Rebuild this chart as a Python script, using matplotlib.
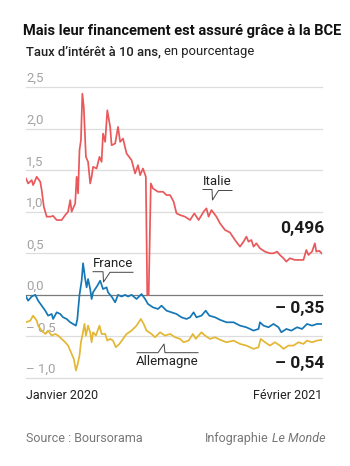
import matplotlib
matplotlib.use("Agg")
import matplotlib.pyplot as plt
from matplotlib import font_manager
import pandas as pd

# jours depuis le 2 janvier 2020, taux à 10 ans en %
italie_jours = [0, 3, 8, 10, 15, 20, 22, 25, 29, 34, 38, 43, 50, 55, 59, 62, 64, 69, 71, 73,
                75, 77, 79, 81, 84, 87, 90, 92, 94, 99, 103, 106, 108, 111, 114, 118, 120, 125,
                129, 132, 136, 141, 148, 153, 157, 160, 164, 168, 170, 172, 175, 178, 185, 192,
                197, 202, 207, 211, 216, 223, 230, 236, 242, 249, 253, 256, 260, 267, 272, 279,
                286, 293, 300, 305, 309, 312, 316, 319, 323, 328, 335, 342, 347, 352, 356, 361,
                365, 370, 377, 384, 389, 393, 396, 401, 405, 407, 411, 415]
italie = [1.40, 1.34, 1.38, 1.32, 1.42, 1.36, 1.26, 1.06, 0.94, 0.94, 0.95, 0.90, 0.90, 0.96,
          1.00, 1.14, 1.00, 1.10, 1.42, 1.22, 1.74, 1.86, 2.42, 2.26, 1.66, 1.60, 1.34, 1.42,
          1.54, 1.52, 1.66, 1.60, 1.94, 1.84, 2.22, 2.02, 1.80, 1.82, 2.02, 1.84, 1.88, 1.70,
          1.62, 1.46, 1.56, 1.44, 1.52, 1.42, 0.00, 0.00, 1.34, 1.28, 1.24, 1.24, 1.20, 1.20,
          1.12, 0.98, 0.96, 0.94, 0.90, 0.98, 0.90, 1.00, 1.04, 0.94, 1.02, 0.94, 0.86, 0.78,
          0.75, 0.66, 0.58, 0.64, 0.70, 0.64, 0.66, 0.58, 0.62, 0.56, 0.52, 0.50, 0.50, 0.52,
          0.48, 0.44, 0.40, 0.44, 0.42, 0.42, 0.42, 0.54, 0.48, 0.52, 0.62, 0.52, 0.53, 0.496]

france_jours = [0, 3, 8, 13, 17, 22, 27, 31, 36, 38, 43, 48, 52, 57, 62, 66, 70, 72, 75, 78,
                80, 83, 85, 87, 90, 92, 94, 97, 100, 104, 108, 113, 115, 120, 125, 129, 134, 139,
                143, 148, 155, 162, 167, 171, 178, 185, 190, 197, 204, 211, 218, 225, 230, 235,
                239, 246, 252, 257, 265, 272, 281, 291, 300, 309, 319, 326, 328, 333, 340, 347,
                354, 358, 365, 372, 380, 387, 394, 401, 408, 415]
france = [-0.02, -0.07, -0.02, 0.00, -0.07, -0.13, -0.19, -0.25, -0.23, -0.29, -0.21, -0.23,
          -0.27, -0.29, -0.33, -0.35, -0.37, -0.29, 0.00, 0.17, 0.38, 0.19, 0.09, 0.19, 0.07,
          -0.05, 0.03, 0.07, 0.11, 0.17, 0.07, 0.09, 0.03, -0.02, -0.09, 0.00, -0.02, 0.00,
          -0.02, 0.00, -0.05, 0.01, -0.05, -0.11, -0.15, -0.17, -0.13, -0.19, -0.21, -0.23,
          -0.27, -0.29, -0.27, -0.21, -0.27, -0.25, -0.19, -0.25, -0.27, -0.30, -0.33, -0.33,
          -0.37, -0.39, -0.43, -0.41, -0.33, -0.37, -0.39, -0.35, -0.39, -0.45, -0.41, -0.43,
          -0.39, -0.41, -0.35, -0.37, -0.35, -0.35]

allemagne_jours = [0, 6, 10, 15, 17, 22, 27, 31, 36, 41, 45, 50, 55, 59, 64, 67, 70, 72, 75,
                   77, 79, 82, 84, 87, 90, 92, 94, 98, 103, 106, 111, 114, 118, 122, 126, 131,
                   136, 141, 148, 155, 161, 165, 169, 176, 181, 188, 195, 202, 209, 216, 221,
                   228, 234, 238, 246, 251, 258, 265, 272, 281, 291, 300, 309, 319, 326, 329,
                   335, 342, 349, 356, 361, 368, 375, 382, 389, 394, 401, 408, 415]
allemagne = [-0.33, -0.31, -0.25, -0.31, -0.37, -0.43, -0.47, -0.43, -0.49, -0.47, -0.49,
             -0.53, -0.57, -0.61, -0.71, -0.77, -0.91, -0.85, -0.73, -0.57, -0.49, -0.35,
             -0.49, -0.37, -0.45, -0.57, -0.45, -0.49, -0.37, -0.47, -0.47, -0.55, -0.53,
             -0.55, -0.63, -0.59, -0.53, -0.47, -0.43, -0.37, -0.29, -0.35, -0.43, -0.47,
             -0.51, -0.45, -0.49, -0.47, -0.51, -0.53, -0.57, -0.55, -0.47, -0.53, -0.45,
             -0.49, -0.53, -0.51, -0.54, -0.57, -0.55, -0.59, -0.61, -0.65, -0.63, -0.53,
             -0.57, -0.61, -0.57, -0.61, -0.65, -0.61, -0.61, -0.57, -0.59, -0.55, -0.57,
             -0.55, -0.54]

y_ticks = [2.5, 2.0, 1.5, 1.0, 0.5, 0.0, -0.5, -1.0]
y_labels = ["2,5", "2,0", "1,5", "1,0", "0,5", "0,0", "\u2013 0,5", "\u2013 1,0"]
fin_labels = ["0,496", "\u2013 0,35", "\u2013 0,54"]

debut = pd.Timestamp("2020-01-02")
def to_dates(jours):
    return debut + pd.to_timedelta(jours, unit="D")

names = {f.name for f in font_manager.fontManager.ttflist}
narrow = "Liberation Sans Narrow" if "Liberation Sans Narrow" in names else "Roboto"
plt.rcParams["font.family"] = ["Roboto", "DejaVu Sans"]

W, H = 350, 466
def fx(x):
    return x / W
def fy(y):
    return 1 - y / H

fig = plt.figure(figsize=(3.5, 4.66), dpi=100)
ax = fig.add_axes([fx(26), fy(378), 296 / W, 291 / H])
ax.axis("off")
ax.set_ylim(-1.0, 2.5)
ax.set_xlim(to_dates([0])[0], to_dates([415])[0])

rouge = "#e9595c"
bleu = "#1577b5"
jaune = "#e3b734"

for v, lab in zip(y_ticks, y_labels):
    c = "#7a7a7a" if v == 0 else "#dddddd"
    ax.axhline(v, color=c, lw=0.9, zorder=1, clip_on=False)
    ax.annotate(lab, xy=(0, v), xycoords=("axes fraction", "data"),
                xytext=(0, 3.5), textcoords="offset points", annotation_clip=False,
                fontsize=9.5, color="#a3a3a3", ha="left", va="baseline", zorder=2)

ax.plot(to_dates(italie_jours), italie, color=rouge, lw=1.25, zorder=4)
ax.plot(to_dates(france_jours), france, color=bleu, lw=1.25, zorder=5)
ax.plot(to_dates(allemagne_jours), allemagne, color=jaune, lw=1.25, zorder=4)

# valeurs finales
for y, lab in zip([233, 313, 368], fin_labels):
    fig.text(fx(324), fy(y), lab, fontsize=12.5, fontweight="bold", color="#1a1a1a",
             ha="right", va="baseline")

# noms des pays avec petites flèches
fig.text(fx(217), fy(185), "Italie", fontsize=9.5, color="#222222", ha="center", va="baseline")
fig.add_artist(plt.Line2D([fx(203), fx(212), fx(212.5), fx(218.5), fx(232)],
                          [fy(189.5), fy(189.5), fy(200), fy(190.5), fy(190.5)],
                          color="#444444", lw=0.7))
fig.text(fx(113), fy(267), "France", fontsize=9.5, color="#222222", ha="center", va="baseline")
fig.add_artist(plt.Line2D([fx(93), fx(103), fx(103.5), fx(110), fx(133)],
                          [fy(271.7), fy(271.7), fy(282), fy(272.3), fy(272.3)],
                          color="#444444", lw=0.7))
fig.text(fx(167.5), fy(365), "Allemagne", fontsize=9.5, color="#222222", ha="center", va="baseline")
fig.add_artist(plt.Line2D([fx(137), fx(158), fx(164), fx(165), fx(198)],
                          [fy(352.7), fy(352.7), fy(344), fy(352.7), fy(352.7)],
                          color="#444444", lw=0.7))

# titres
fig.text(fx(23), fy(35), "Mais leur financement est assuré grâce à la BCE",
         family=[narrow, "DejaVu Sans"], fontsize=10.5, fontweight="bold",
         color="#111111", ha="left", va="baseline")
t_sub = fig.text(fx(26), fy(55), "Taux d\u2019intérêt à 10 ans,", fontsize=9.4,
                 fontweight="medium", color="#222222", ha="left", va="baseline")

fig.text(fx(26), fy(399), "Janvier 2020", fontsize=9, color="#222222", ha="left", va="baseline")
fig.text(fx(322), fy(399), "Février 2021", fontsize=9, color="#222222", ha="right", va="baseline")

fig.text(fx(26), fy(442), "Source : Boursorama", fontsize=9, color="#777777",
         ha="left", va="baseline")
t_lm = fig.text(fx(325), fy(442), "Le Monde", fontsize=9, color="#777777",
                style="italic", ha="right", va="baseline")

fig.canvas.draw()
r = fig.canvas.get_renderer()
bb = t_sub.get_window_extent(r)
fig.text(fx(bb.x1 + 3), fy(55), "en pourcentage", fontsize=9.4, color="#222222",
         ha="left", va="baseline")
bb2 = t_lm.get_window_extent(r)
fig.text(fx(bb2.x0 - 3), fy(442), "Infographie", fontsize=9, color="#777777",
         ha="right", va="baseline")

fig.savefig("out.png", dpi=100)
